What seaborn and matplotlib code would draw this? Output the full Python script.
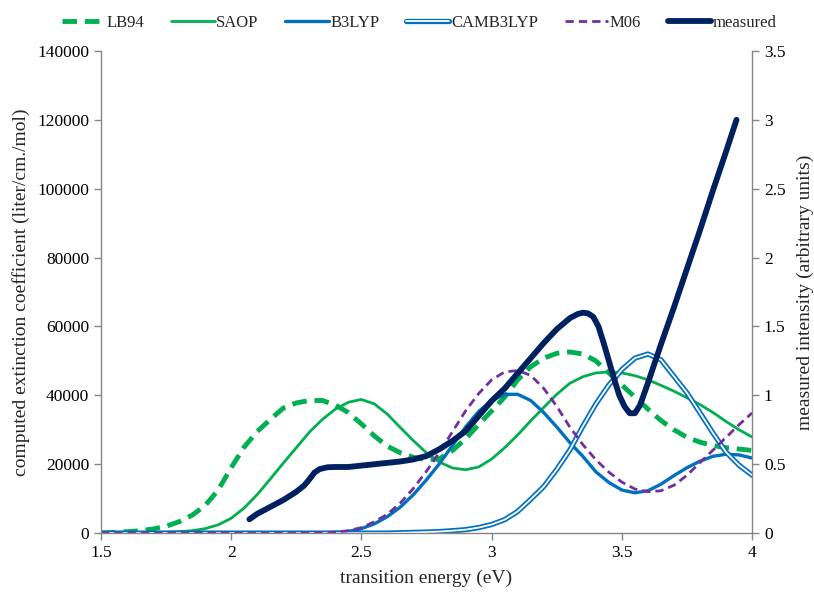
import numpy as np
import pandas as pd
import matplotlib
matplotlib.use("Agg")
import matplotlib.pyplot as plt
from matplotlib.lines import Line2D
import seaborn as sns

# transition energy grid (eV) for the computed spectra
energy = np.round(np.arange(1.5, 4.0001, 0.05), 2)

# computed extinction coefficients (liter/cm./mol)
lb94 = [0, 200, 400, 700, 1200, 2000, 3300, 5200, 8000, 12500, 19000,
        25000, 29500, 33000, 36300, 37800, 38500, 38500, 37200, 35000, 31700,
        28200, 25200, 23300, 22000, 21300, 21600, 24000, 27400, 31500, 35500,
        39500, 44500, 48300, 50800, 52200, 52600, 52000, 50000, 46500, 43000,
        39500, 36000, 32700, 30000, 27800, 26400, 25400, 24800, 24400, 24000]
saop = [0, 0, 50, 100, 150, 250, 400, 700, 1300, 2400, 4300,
        7300, 11200, 15700, 20300, 24800, 29300, 33000, 36000, 38000, 38800,
        37500, 34500, 30600, 26800, 23300, 20600, 18900, 18400, 19200, 21500,
        24800, 28500, 32600, 36500, 40300, 43500, 45400, 46500, 46800, 46500,
        45700, 44500, 42900, 41200, 39300, 37300, 35000, 32400, 30000, 27900]
b3lyp = [0, 0, 0, 0, 0, 0, 0, 0, 0, 0, 0,
         0, 0, 0, 0, 0, 50, 100, 200, 500, 1300,
         2700, 4800, 7600, 11200, 15500, 20200, 25500, 30800, 35300, 38500,
         40300, 40300, 38500, 35000, 30800, 26300, 22300, 17800, 14700, 12500,
         11700, 12300, 14200, 16700, 19000, 20900, 22300, 22900, 22700, 21800]
camb3lyp = [0, 0, 0, 0, 0, 0, 0, 0, 0, 0, 0,
            0, 0, 0, 0, 0, 0, 0, 0, 0, 0,
            0, 0, 100, 200, 300, 450, 700, 1000, 1600, 2500,
            3900, 6300, 9800, 13500, 18500, 24100, 31000, 37500, 43000, 47500,
            50800, 52000, 50300, 45500, 40700, 34900, 29000, 23500, 19700, 16800]
m06 = [0, 0, 0, 0, 0, 0, 0, 0, 0, 0, 0,
       0, 0, 0, 0, 0, 50, 150, 300, 700, 1600,
       3300, 5500, 8800, 13000, 18000, 23500, 29500, 35500, 40500, 44500,
       46800, 47200, 45800, 42000, 36800, 30800, 25700, 21300, 17700, 14800,
       12800, 12000, 12300, 13900, 16800, 20500, 24100, 27800, 31500, 34900]

# measured spectrum (arbitrary units)
meas_energy = [2.07, 2.1, 2.15, 2.2, 2.25, 2.28, 2.3, 2.32, 2.34, 2.37, 2.4,
               2.45, 2.5, 2.55, 2.6, 2.65, 2.7, 2.75, 2.8, 2.85, 2.9, 2.95,
               3.0, 3.05, 3.1, 3.15, 3.2, 3.25, 3.3, 3.33, 3.35, 3.37, 3.39,
               3.41, 3.43, 3.45, 3.47, 3.49, 3.51, 3.53, 3.55, 3.57, 3.6,
               3.65, 3.7, 3.75, 3.8, 3.85, 3.9, 3.94]
meas_int = [0.10, 0.14, 0.19, 0.24, 0.30, 0.345, 0.39, 0.44, 0.465, 0.478,
            0.48, 0.48, 0.49, 0.50, 0.51, 0.52, 0.535, 0.56, 0.61, 0.67,
            0.74, 0.85, 0.96, 1.05, 1.16, 1.27, 1.38, 1.48, 1.56, 1.59, 1.60,
            1.595, 1.57, 1.50, 1.38, 1.25, 1.12, 1.00, 0.92, 0.87, 0.87,
            0.93, 1.09, 1.37, 1.64, 1.92, 2.20, 2.49, 2.77, 3.0]

GREEN = "#00B050"
BLUE = "#0070C0"
PURPLE = "#7030A0"
NAVY = "#002060"
AXIS_GREY = "#868686"

sns.set_style("white")
plt.rcParams["font.family"] = ["Liberation Serif", "DejaVu Serif"]
plt.rcParams["font.size"] = 12

fig = plt.figure(figsize=(8.14, 5.99), dpi=100)
ax = fig.add_axes([0.124, 0.110, 0.800, 0.805])
ax2 = ax.twinx()

calc = pd.DataFrame({"energy": energy, "LB94": lb94, "SAOP": saop,
                     "B3LYP": b3lyp, "CAMB3LYP": camb3lyp, "M06": m06})

sns.lineplot(data=calc, x="energy", y="SAOP", ax=ax, color=GREEN, lw=2.0)
sns.lineplot(data=calc, x="energy", y="LB94", ax=ax, color=GREEN, lw=3.5,
             linestyle=(0, (3, 1.6)))
sns.lineplot(data=calc, x="energy", y="B3LYP", ax=ax, color=BLUE, lw=2.4)
# double-line style: wide blue stroke with a thin white core
sns.lineplot(data=calc, x="energy", y="CAMB3LYP", ax=ax, color=BLUE, lw=3.8)
sns.lineplot(data=calc, x="energy", y="CAMB3LYP", ax=ax, color="white", lw=1.3)
sns.lineplot(data=calc, x="energy", y="M06", ax=ax, color=PURPLE, lw=2.0,
             linestyle=(0, (3, 1.8)))

meas = pd.DataFrame({"energy": meas_energy, "intensity": meas_int})
sns.lineplot(data=meas, x="energy", y="intensity", ax=ax2, color=NAVY,
             lw=4.2, solid_capstyle="round", solid_joinstyle="round")

ax.set_xlim(1.5, 4.0)
ax.set_ylim(0, 140000)
ax2.set_ylim(0, 3.5)
ax.set_xticks([1.5, 2, 2.5, 3, 3.5, 4])
ax.set_xticklabels(["1.5", "2", "2.5", "3", "3.5", "4"])
ax.set_yticks(np.arange(0, 140001, 20000))
ax.set_yticklabels([str(v) for v in range(0, 140001, 20000)])
ax2.set_yticks([0, 0.5, 1, 1.5, 2, 2.5, 3, 3.5])
ax2.set_yticklabels(["0", "0.5", "1", "1.5", "2", "2.5", "3", "3.5"])

ax.set_xlabel("transition energy (eV)", fontsize=14, labelpad=6)
ax.set_ylabel("computed extinction coefficient (liter/cm./mol)",
              fontsize=14, labelpad=5)
ax2.set_ylabel("measured intensity (arbitrary units)", fontsize=14,
               labelpad=8)

for a in (ax, ax2):
    a.grid(False)
    for side, sp in a.spines.items():
        sp.set_color(AXIS_GREY)
        sp.set_linewidth(1.0)
    a.spines["top"].set_visible(False)
    a.tick_params(colors=AXIS_GREY, length=5, width=1.0, labelcolor="black",
                  labelsize=12.5)
ax.spines["right"].set_visible(False)
ax2.spines["left"].set_visible(False)
ax2.spines["bottom"].set_visible(False)
ax.tick_params(axis="y", direction="out", left=True)
ax.tick_params(axis="x", direction="out", bottom=True)
ax2.tick_params(axis="y", direction="out", right=True)

handles = [
    Line2D([], [], color=GREEN, lw=3.5, linestyle=(0, (3, 1.6))),
    Line2D([], [], color=GREEN, lw=2.0),
    Line2D([], [], color=BLUE, lw=2.4),
    (Line2D([], [], color=BLUE, lw=3.8), Line2D([], [], color="white", lw=1.3)),
    Line2D([], [], color=PURPLE, lw=2.0, linestyle=(0, (3, 1.8))),
    Line2D([], [], color=NAVY, lw=4.2),
]
labels = ["LB94", "SAOP", "B3LYP", "CAMB3LYP", "M06", "measured"]
fig.legend(handles, labels, loc="upper center", bbox_to_anchor=(0.515, 1.0),
           ncol=6, frameon=False, fontsize=12, handlelength=2.6,
           handletextpad=0.1, columnspacing=1.6)

fig.savefig("out.png", dpi=100)
